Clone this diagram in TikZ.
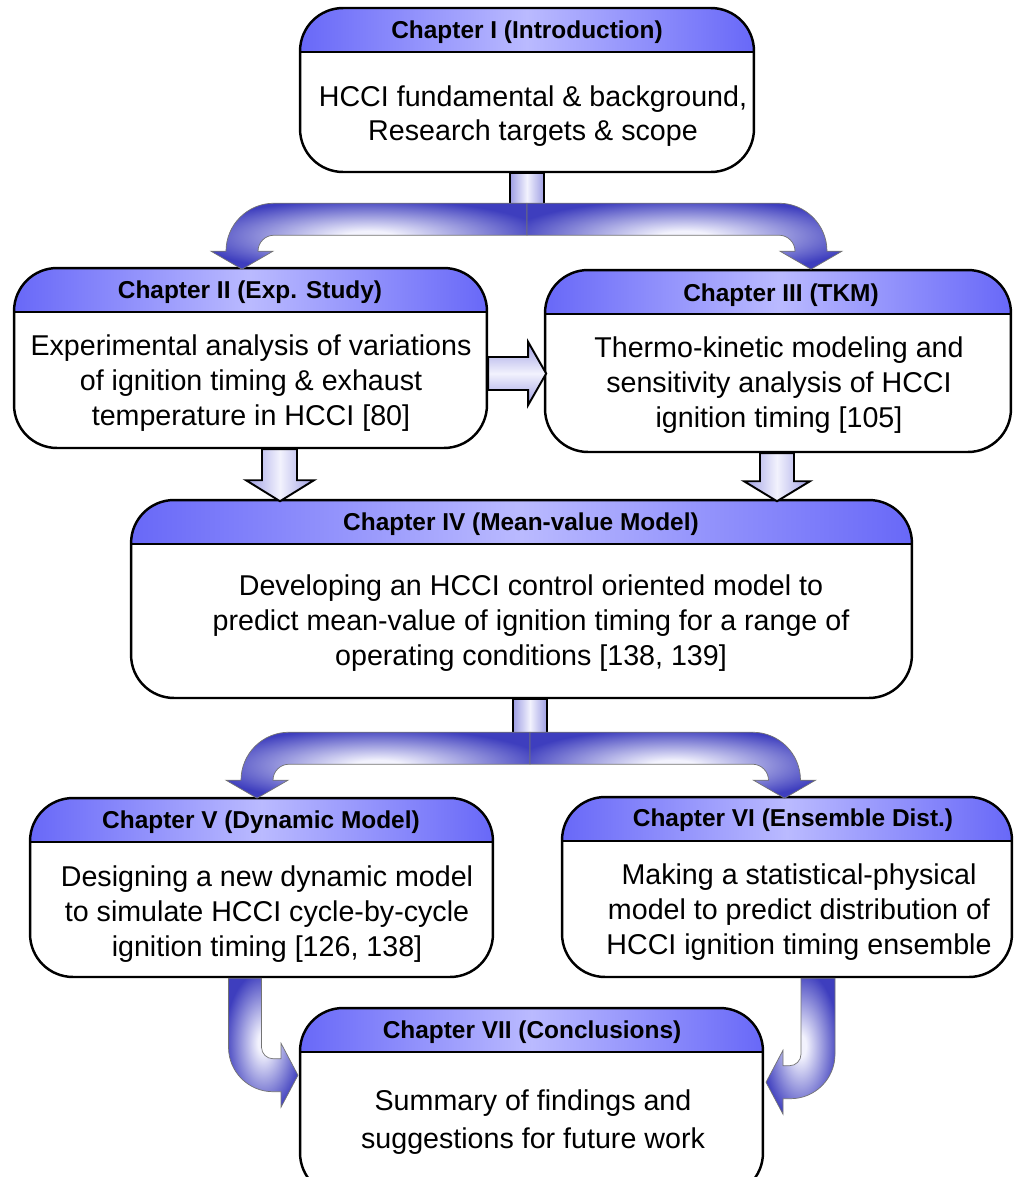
\documentclass[tikz,border=0pt]{standalone}
\usepackage{fontspec}
\setmainfont{Liberation Sans}
\usepackage{tikz}

\definecolor{hdrc}{RGB}{104,104,248}
\definecolor{hdrl}{RGB}{186,186,255}
\definecolor{arrc}{RGB}{62,62,190}
\definecolor{arrl}{RGB}{242,242,253}
\definecolor{stemc}{RGB}{158,158,228}
\definecolor{steml}{RGB}{242,242,253}

\pgfdeclareradialshading{bandglow}{\pgfpoint{0bp}{0bp}}{color(0bp)=(arrl); color(4bp)=(arrl); color(28bp)=(arrc); color(50bp)=(arrc)}

\tikzset{
  chap/.style={draw, line width=1.4pt, rounded corners=0.86cm, fill=white,
    path picture={
      \shade[sharp corners, left color=hdrc, right color=hdrc, middle color=hdrl]
        (path picture bounding box.north west) rectangle ([yshift=-0.88cm]path picture bounding box.north east);
      \draw[sharp corners, line width=1.1pt]
        ([yshift=-0.88cm]path picture bounding box.north west) -- ([yshift=-0.88cm]path picture bounding box.north east);
    }},
  ttl/.style={inner sep=0pt, font=\bfseries\fontsize{13.9}{16}\selectfont},
  txt/.style={inner sep=0pt, align=center, font=\fontsize{16.3}{19.8}\selectfont},
  vstem/.style={draw, line width=1.1pt, left color=stemc, right color=stemc, middle color=steml},
  hstem/.style={draw, line width=1.1pt, top color=stemc, bottom color=stemc, middle color=steml},
  bandarrow/.style={draw=black!55, line width=0.4pt, shading=bandglow}
}

\begin{document}
\begin{tikzpicture}[x=0.02cm, y=0.02cm]
\useasboundingbox (0,0) rectangle (1014,-1177);

% Chapter I
\node[chap, minimum width=9.08cm, minimum height=3.28cm] (c1) at (527,-90) {};
\node[ttl] (t1) at (527,-32) {Chapter I (Introduction)};
\node[txt] (b1) at (533,-116) {HCCI fundamental \& background,\\Research targets \& scope};

% Chapter II
\node[chap, minimum width=9.46cm, minimum height=3.6cm] (c2) at (250.5,-358) {};
\node[ttl] (t2) at (250,-292) {Chapter II (Exp. Study)};
\node[txt] (b2) at (251,-383) {Experimental analysis of variations\\of ignition timing \& exhaust\\temperature in HCCI [80]};

% Chapter III
\node[chap, minimum width=9.32cm, minimum height=3.64cm] (c3) at (778,-361) {};
\node[ttl] (t3) at (781,-295) {Chapter III (TKM)};
\node[txt] (b3) at (779,-385) {Thermo-kinetic modeling and\\sensitivity analysis of HCCI\\ignition timing [105]};

% Chapter IV
\node[chap, minimum width=15.62cm, minimum height=3.96cm] (c4) at (521.5,-599) {};
\node[ttl] (t4) at (521,-524) {Chapter IV (Mean-value Model)};
\node[txt] (b4) at (531,-623) {Developing an HCCI control oriented model to\\predict mean-value of ignition timing for a range of\\operating conditions [138, 139]};

% Chapter V
\node[chap, minimum width=9.26cm, minimum height=3.58cm] (c5) at (261.5,-887.5) {};
\node[ttl] (t5) at (261,-822) {Chapter V (Dynamic Model)};
\node[txt] (b5) at (267,-914) {Designing a new dynamic model\\to simulate HCCI cycle-by-cycle\\ignition timing [126, 138]};

% Chapter VI
\node[chap, minimum width=9cm, minimum height=3.6cm] (c6) at (787,-887) {};
\node[ttl] (t6) at (793,-820) {Chapter VI (Ensemble Dist.)};
\node[txt] (b6) at (799,-912) {Making a statistical-physical\\model to predict distribution of\\HCCI ignition timing ensemble};

% Chapter VII
\node[chap, minimum width=9.26cm, minimum height=3.76cm] (c7) at (531.5,-1102) {};
\node[ttl] (t7) at (532,-1032) {Chapter VII (Conclusions)};
\node[txt] (b7) at (533,-1122) {Summary of findings and\\[2pt]suggestions for future work};

% I -> II, III
\begin{scope}[shift={(c1.south)}]
  \draw[vstem] (-17,0) rectangle (17,-31);
  \shade[bandarrow] (0,-30) -- (-253,-30) .. controls (-279.5,-30) and (-301,-51.5) .. (-301,-78) -- (-316,-78) -- (-285,-96) -- (-254,-78) -- (-269,-78) .. controls (-269,-69.2) and (-261.8,-62) .. (-253,-62) -- (0,-62) -- cycle;
  \shade[bandarrow] (0,-30) -- (252,-30) .. controls (278.5,-30) and (300,-51.5) .. (300,-78) -- (315,-78) -- (284,-96) -- (253,-78) -- (268,-78) .. controls (268,-69.2) and (260.8,-62) .. (252,-62) -- (0,-62) -- cycle;
\end{scope}

% II -> III
\begin{scope}[shift={(c2.east)}]
  \shade[hstem] (0,1) -- (40,1) -- (40,16) -- (58,-15.5) -- (40,-47) -- (40,-32) -- (0,-32) -- cycle;
\end{scope}

% II -> IV, III -> IV
\begin{scope}[shift={(c2.south)}]
  \shade[vstem] (11.5,0) -- (11.5,-31) -- (-4.5,-31) -- (29.5,-52) -- (63.5,-31) -- (46.5,-31) -- (46.5,0) -- cycle;
\end{scope}
\begin{scope}[shift={(c3.south)}]
  \shade[vstem] (-18,0) -- (-18,-28) -- (-34,-28) -- (-1,-48) -- (32,-28) -- (16,-28) -- (16,0) -- cycle;
\end{scope}

% IV -> V, VI
\begin{scope}[shift={(c4.south)}]
  \draw[vstem] (-8.5,0) rectangle (25.5,-34);
  \shade[bandarrow] (8.5,-33) -- (-232.5,-33) .. controls (-259,-33) and (-280.5,-54.5) .. (-280.5,-81) -- (-295.5,-81) -- (-264.5,-99) -- (-233.5,-81) -- (-248.5,-81) .. controls (-248.5,-72.2) and (-241.3,-65) .. (-232.5,-65) -- (8.5,-65) -- cycle;
  \shade[bandarrow] (8.5,-33) -- (231,-33) .. controls (257.5,-33) and (279,-54.5) .. (279,-81) -- (294,-81) -- (263,-99) -- (232,-81) -- (247,-81) .. controls (247,-72.2) and (239.8,-65) .. (231,-65) -- (8.5,-65) -- cycle;
\end{scope}

% V -> VII
\begin{scope}[shift={(c5.south)}]
  \shade[bandarrow] (-33,0) -- (-33,-69) .. controls (-33,-93.6) and (-13.1,-113.5) .. (11.5,-113.5) -- (19.5,-113.5) -- (19.5,-129) -- (36.5,-97) -- (19.5,-65) -- (19.5,-80.5) -- (11.5,-80.5) .. controls (5.15,-80.5) and (0,-75.35) .. (0,-69) -- (0,0) -- cycle;
\end{scope}

% VI -> VII
\begin{scope}[shift={(c6.south)}]
  \shade[bandarrow] (48,0) -- (48,-76) .. controls (48,-100.6) and (28.1,-120.5) .. (3.5,-120.5) -- (-4,-120.5) -- (-4,-136) -- (-21,-104) -- (-4,-72) -- (-4,-87.5) -- (2.5,-87.5) .. controls (8.85,-87.5) and (14,-82.35) .. (14,-76) -- (14,0) -- cycle;
\end{scope}

\end{tikzpicture}
\end{document}
